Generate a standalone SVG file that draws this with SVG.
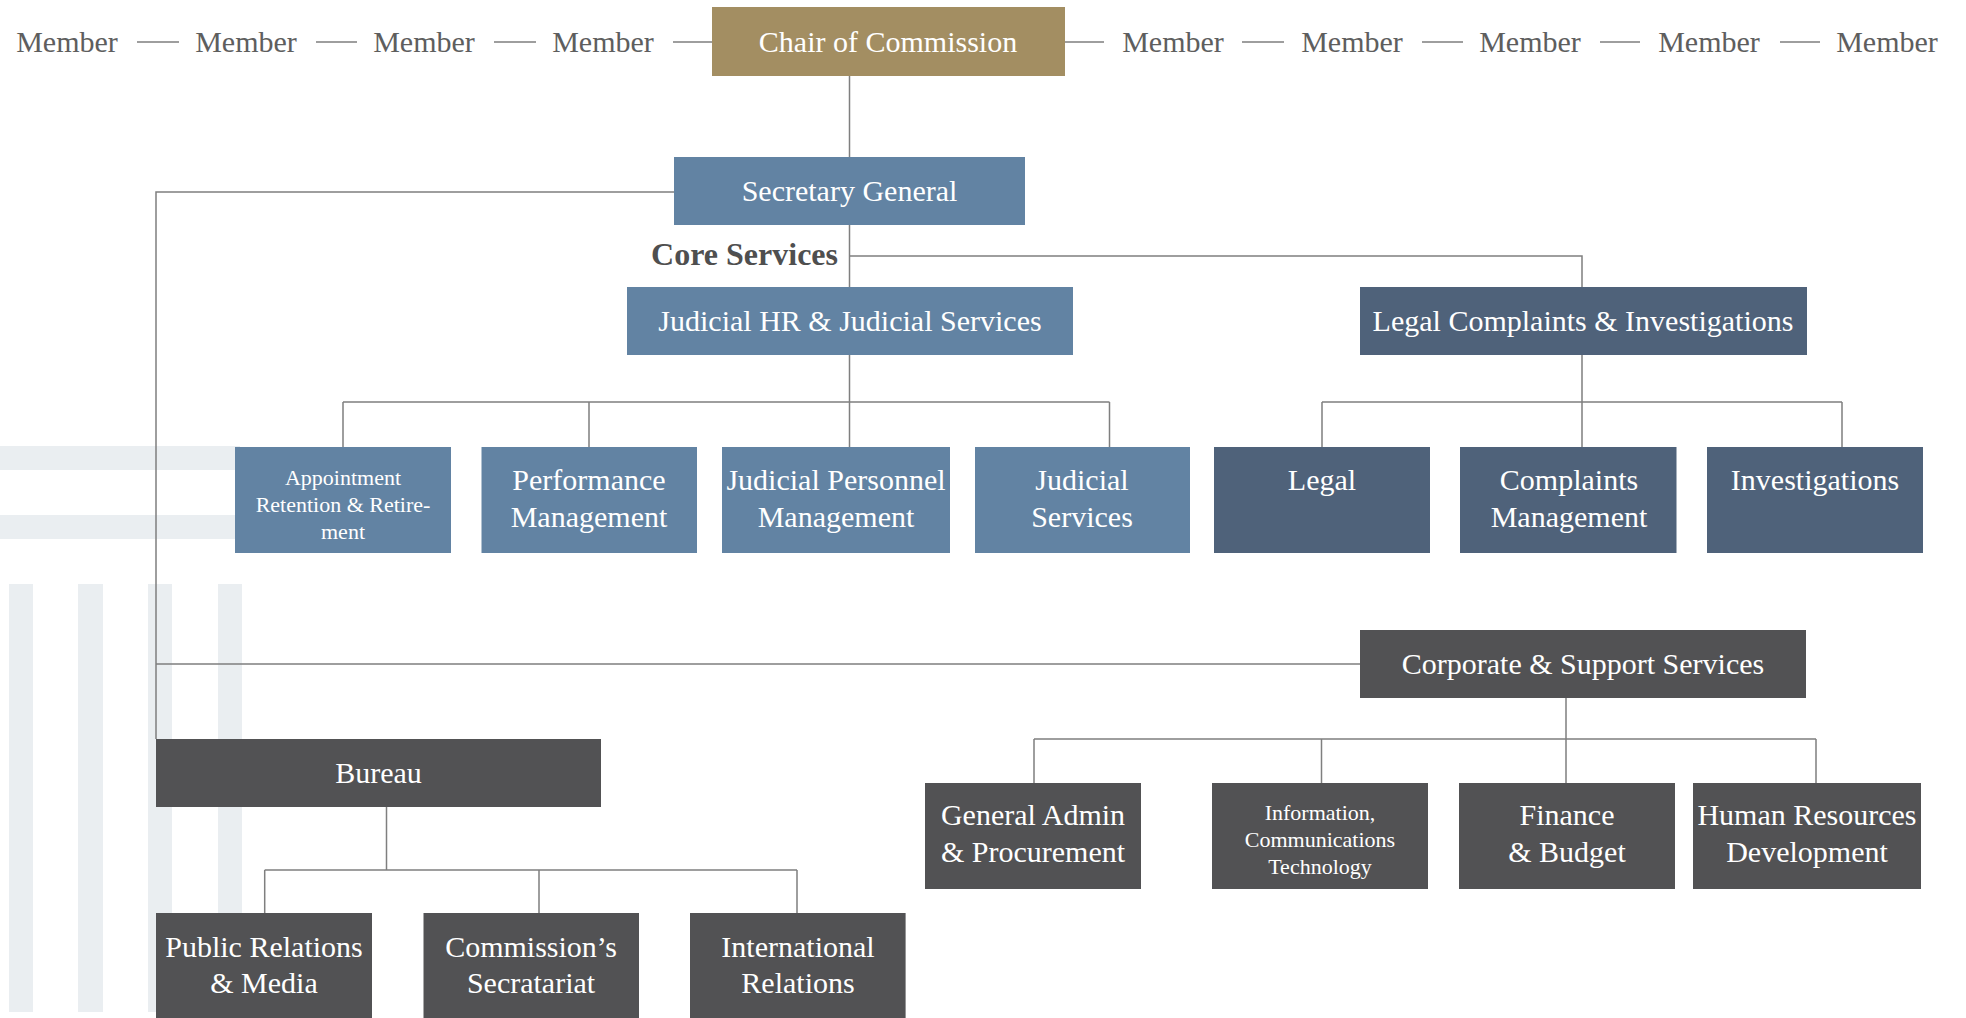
<svg xmlns="http://www.w3.org/2000/svg" width="1966" height="1018" viewBox="0 0 1966 1018">
<style>
.bg{fill:#eaeef1}
.ln{stroke:#7f7f7f;stroke-width:1.5;fill:none}
.t{font-family:"Liberation Serif","Times New Roman",serif;font-size:30px;fill:#ffffff;text-anchor:middle}
.s{font-size:22px}
.m{font-family:"Liberation Serif","Times New Roman",serif;font-size:30px;fill:#5e5e5e;text-anchor:middle}
.core{font-family:"Liberation Serif","Times New Roman",serif;font-size:32px;font-weight:bold;fill:#4f4f4f;text-anchor:end}
.gold{fill:#a38e62}
.blue{fill:#6283a3}
.navy{fill:#4f627a}
.gray{fill:#525254}
</style>
<rect width="1966" height="1018" fill="#ffffff"/>
<g id="background">
<rect class="bg" x="0" y="446" width="240" height="24"/>
<rect class="bg" x="0" y="515" width="240" height="24"/>
<rect class="bg" x="9" y="584" width="24" height="428"/>
<rect class="bg" x="78" y="584" width="25" height="428"/>
<rect class="bg" x="148" y="584" width="24" height="428"/>
<rect class="bg" x="218" y="584" width="24" height="428"/>
</g>
<g id="connectors">
<path class="ln" d="M137 42H179M316 42H357M494 42H536M673 42H712M1065 42H1104M1242 42H1284M1422 42H1463M1600 42H1640M1780 42H1820"/>
<path class="ln" d="M849.5 76V157M849.5 225V287M849.5 256H1582V287"/>
<path class="ln" d="M674 192H156V739M156 664H1360"/>
<path class="ln" d="M849.5 355V447M343 402H1109.5M343 402V447M589 402V447M1109.5 402V447"/>
<path class="ln" d="M1582 355V447M1322 402H1842M1322 402V447M1842 402V447"/>
<path class="ln" d="M1566 698V783M1034 739H1816M1034 739V783M1321.5 739V783M1816 739V783"/>
<path class="ln" d="M386.5 807V870M264.7 870H797M264.7 870V913M539 870V913M797 870V913"/>
</g>
<g id="members">
<text class="m" x="67" y="52">Member</text>
<text class="m" x="246" y="52">Member</text>
<text class="m" x="424" y="52">Member</text>
<text class="m" x="603" y="52">Member</text>
<text class="m" x="1173" y="52">Member</text>
<text class="m" x="1352" y="52">Member</text>
<text class="m" x="1530" y="52">Member</text>
<text class="m" x="1709" y="52">Member</text>
<text class="m" x="1887" y="52">Member</text>
</g>
<g id="chair"><rect class="gold" x="712" y="7" width="353" height="69"/><text class="t" x="888" y="52">Chair of Commission</text></g>
<g id="secretary-general"><rect class="blue" x="674" y="157" width="351" height="68"/><text class="t" x="849.5" y="201">Secretary General</text></g>
<g id="core-services-label"><text class="core" x="838" y="265">Core Services</text></g>
<g id="judicial-hr"><rect class="blue" x="627" y="287" width="446" height="68"/><text class="t" x="850" y="331">Judicial HR &amp; Judicial Services</text></g>
<g id="legal-complaints"><rect class="navy" x="1360" y="287" width="447" height="68"/><text class="t" x="1583" y="331">Legal Complaints &amp; Investigations</text></g>
<g id="appointment"><rect class="blue" x="235" y="447" width="216" height="106"/><text class="t s" x="343" y="485">Appointment</text><text class="t s" x="343" y="512">Retention &amp; Retire-</text><text class="t s" x="343" y="539">ment</text></g>
<g id="performance"><rect class="blue" x="481.5" y="447" width="215.5" height="106"/><text class="t" x="589" y="490">Performance</text><text class="t" x="589" y="527">Management</text></g>
<g id="judicial-personnel"><rect class="blue" x="722" y="447" width="228" height="106"/><text class="t" x="836" y="490">Judicial Personnel</text><text class="t" x="836" y="527">Management</text></g>
<g id="judicial-services"><rect class="blue" x="975" y="447" width="215" height="106"/><text class="t" x="1082" y="490">Judicial</text><text class="t" x="1082" y="527">Services</text></g>
<g id="legal"><rect class="navy" x="1214" y="447" width="216" height="106"/><text class="t" x="1322" y="490">Legal</text></g>
<g id="complaints"><rect class="navy" x="1460" y="447" width="216.5" height="106"/><text class="t" x="1569" y="490">Complaints</text><text class="t" x="1569" y="527">Management</text></g>
<g id="investigations"><rect class="navy" x="1707" y="447" width="216" height="106"/><text class="t" x="1815" y="490">Investigations</text></g>
<g id="corporate"><rect class="gray" x="1360" y="630" width="446" height="68"/><text class="t" x="1583" y="674">Corporate &amp; Support Services</text></g>
<g id="bureau"><rect class="gray" x="156" y="739" width="445" height="68"/><text class="t" x="378.5" y="783">Bureau</text></g>
<g id="general-admin"><rect class="gray" x="925" y="783" width="216" height="106"/><text class="t" x="1033" y="825">General Admin</text><text class="t" x="1033" y="862">&amp; Procurement</text></g>
<g id="ict"><rect class="gray" x="1212" y="783" width="216" height="106"/><text class="t s" x="1320" y="820">Information,</text><text class="t s" x="1320" y="847">Communications</text><text class="t s" x="1320" y="874">Technology</text></g>
<g id="finance"><rect class="gray" x="1459" y="783" width="216" height="106"/><text class="t" x="1567" y="825">Finance</text><text class="t" x="1567" y="862">&amp; Budget</text></g>
<g id="hr-development"><rect class="gray" x="1693" y="783" width="228" height="106"/><text class="t" x="1807" y="825">Human Resources</text><text class="t" x="1807" y="862">Development</text></g>
<g id="public-relations"><rect class="gray" x="156" y="913" width="216" height="105"/><text class="t" x="264" y="957">Public Relations</text><text class="t" x="264" y="993">&amp; Media</text></g>
<g id="commission-secretariat"><rect class="gray" x="423.5" y="913" width="215.5" height="105"/><text class="t" x="531" y="957">Commission’s</text><text class="t" x="531" y="993">Secratariat</text></g>
<g id="international-relations"><rect class="gray" x="690" y="913" width="215.6" height="105"/><text class="t" x="798" y="957">International</text><text class="t" x="798" y="993">Relations</text></g>
</svg>
